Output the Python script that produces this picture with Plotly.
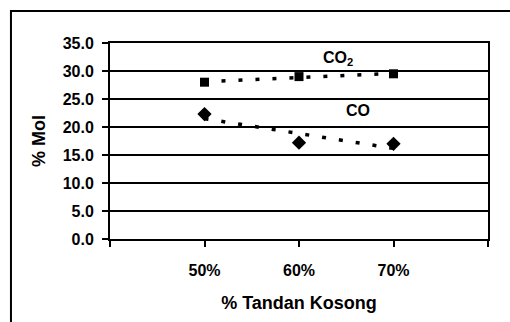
import numpy as np
import plotly.graph_objects as go

# data
x_vals = [0.5, 0.6, 0.7]
x_tick_vals = [0.5, 0.6, 0.7]
x_tick_text = ["50%", "60%", "70%"]
x_end_ticks = [0.4, 0.8]
co2 = [28.0, 29.0, 29.5]
co = [22.3, 17.2, 17.0]
y_ticks = [0, 5, 10, 15, 20, 25, 30, 35]

FONT = "Liberation Sans, Arial, sans-serif"

def trend(x, y):
    p = np.polyfit(x, y, 1)
    xs = np.array([min(x), max(x)])
    return xs, np.polyval(p, xs)

fig = go.Figure()
for ys, sym, size in [(co2, "square", 9), (co, "diamond", 11)]:
    tx, ty = trend(x_vals, ys)
    fig.add_trace(go.Scatter(x=tx, y=ty, mode="lines",
                             line=dict(color="black", width=3.5, dash="4px,13px"),
                             showlegend=False, hoverinfo="skip"))
    fig.add_trace(go.Scatter(x=x_vals, y=ys, mode="markers",
                             marker=dict(symbol=sym, size=size, color="black"),
                             showlegend=False))

fig.add_annotation(x=0.641, y=32.3, text="CO<sub>2</sub>", showarrow=False,
                   font=dict(family=FONT, size=16, color="black", weight="bold"))
fig.add_annotation(x=0.662, y=23.0, text="CO", showarrow=False,
                   font=dict(family=FONT, size=16, color="black", weight="bold"))

# outer chart border
fig.add_shape(type="rect", xref="paper", yref="paper",
              x0=-0.262, x1=1.2, y0=-0.6, y1=1.163,
              line=dict(color="black", width=2), fillcolor="rgba(0,0,0,0)")

fig.update_layout(
    width=510, height=322,
    margin=dict(l=110, r=22, t=43, b=83),
    paper_bgcolor="white", plot_bgcolor="white",
    font=dict(family=FONT, size=16, color="black", weight="bold"),
    xaxis=dict(range=[0.4, 0.8], tickmode="array", tickvals=x_tick_vals,
               ticktext=x_tick_text,
               showgrid=False, zeroline=False, showline=True, linecolor="black",
               linewidth=2, mirror=True, ticks="outside", ticklen=6, tickwidth=2,
               tickcolor="black", ticklabelstandoff=10,
               minor=dict(tickmode="array", tickvals=x_end_ticks, ticks="outside",
                          ticklen=6, tickwidth=2, tickcolor="black", showgrid=False),
               title=dict(text="% Tandan Kosong", standoff=18,
                          font=dict(family=FONT, size=18, weight="bold"))),
    yaxis=dict(range=[0, 35], tickvals=y_ticks, tickformat=".1f",
               showgrid=True, gridcolor="black", gridwidth=2, zeroline=False,
               showline=True, linecolor="black", linewidth=2, mirror=True,
               ticks="outside", ticklen=6, tickwidth=2, tickcolor="black",
               ticklabelstandoff=5,
               title=dict(text="% Mol", standoff=12,
                          font=dict(family=FONT, size=18, weight="bold"))),
)

fig.write_html("out.html")
